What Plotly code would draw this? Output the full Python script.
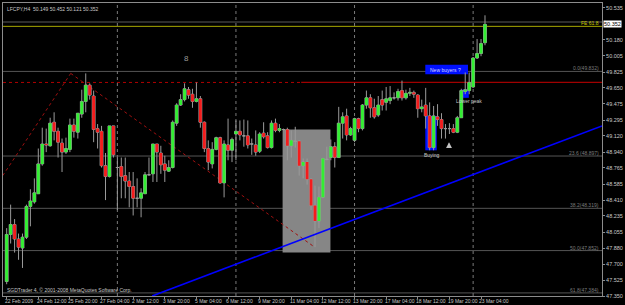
import plotly.graph_objects as go

# ---------------- data ----------------
title_text = "LFCPY,H4  50.149 50.452 50.121 50.352"
copyright_text = "SGDTrader 4, \u00a9 2001-2008 MetaQuotes Software Corp."

opens = [47.51, 48.03, 48.14, 47.98, 47.88, 48.00, 48.34, 48.39, 48.48, 48.81,
         49.03, 49.01, 49.27, 49.17, 49.04, 48.94, 48.97, 49.24, 49.16, 49.36,
         49.50, 49.68, 49.56, 49.20, 49.17, 48.79, 48.67, 49.23, 48.77, 48.78,
         48.68, 48.62, 48.56, 48.43, 48.43, 48.48, 48.69, 48.70, 49.03, 48.93,
         48.81, 48.73, 48.77, 49.26, 49.46, 49.52, 49.63, 49.58, 49.50, 49.53,
         49.27, 48.98, 48.81, 48.97, 49.10, 48.60, 49.02, 48.96, 49.14, 49.17,
         49.12, 49.12, 49.03, 49.02, 48.95, 49.15, 49.12, 48.99, 49.26, 49.18,
         49.19, 49.19, 49.01, 49.06, 49.06, 48.79, 48.83, 48.64, 48.35, 48.18,
         48.44, 48.86, 48.88, 49.00, 48.88, 49.26, 49.34, 49.13, 49.07, 49.31,
         49.20, 49.46, 49.54, 49.43, 49.35, 49.52, 49.49, 49.51, 49.54, 49.54,
         49.62, 49.54, 49.59, 49.60, 49.57, 49.42, 49.46, 49.34, 48.99, 49.33,
         49.30, 49.20, 49.20, 49.20, 49.16, 49.32, 49.61, 49.62, 49.66, 49.98,
         50.03, 50.149]
highs = [48.10, 48.36, 48.20, 48.04, 48.04, 48.36, 48.53, 48.65, 48.98, 49.21,
         49.20, 49.32, 49.38, 49.21, 49.09, 49.10, 49.31, 49.31, 49.37, 49.63,
         49.81, 49.70, 49.62, 49.25, 49.23, 48.93, 49.23, 49.23, 48.88, 48.88,
         48.88, 48.72, 48.72, 48.65, 48.54, 48.72, 48.88, 49.03, 49.03, 49.01,
         48.90, 48.85, 49.29, 49.48, 49.58, 49.70, 49.66, 49.64, 49.71, 49.56,
         49.28, 49.07, 49.05, 49.11, 49.11, 49.07, 49.31, 49.10, 49.29, 49.29,
         49.30, 49.29, 49.09, 49.18, 49.16, 49.27, 49.16, 49.29, 49.31, 49.25,
         49.20, 49.21, 49.18, 49.22, 49.07, 48.87, 48.87, 48.65, 48.57, 48.56,
         48.87, 49.00, 49.08, 49.05, 49.44, 49.38, 49.42, 49.22, 49.32, 49.32,
         49.47, 49.62, 49.58, 49.53, 49.56, 49.62, 49.66, 49.67, 49.60, 49.64,
         49.73, 49.63, 49.65, 49.62, 49.58, 49.52, 49.65, 49.49, 49.45, 49.47,
         49.37, 49.25, 49.26, 49.25, 49.34, 49.64, 49.82, 49.82, 49.99, 50.19,
         50.19, 50.452]
lows = [47.48, 47.93, 47.83, 47.75, 47.66, 47.98, 48.12, 48.37, 48.48, 48.79,
        48.94, 49.00, 49.07, 48.88, 48.72, 48.92, 48.94, 49.10, 49.09, 49.32,
        49.38, 49.52, 49.05, 48.98, 48.77, 48.41, 48.66, 48.88, 48.30, 48.43,
        48.43, 48.33, 48.24, 48.33, 48.22, 48.48, 48.68, 48.61, 48.61, 48.70,
        48.61, 48.72, 48.76, 49.23, 49.45, 49.50, 49.53, 49.43, 49.49, 49.21,
        48.94, 48.74, 48.76, 48.96, 48.59, 48.44, 48.85, 48.83, 48.85, 49.07,
        49.00, 48.98, 48.91, 48.90, 48.93, 49.09, 48.98, 48.98, 49.16, 49.16,
        49.18, 48.85, 48.88, 48.99, 48.68, 48.65, 48.58, 48.30, 47.89, 48.10,
        48.43, 48.85, 48.85, 48.77, 48.88, 49.09, 49.07, 49.12, 49.05, 49.16,
        49.18, 49.42, 49.32, 49.31, 49.33, 49.40, 49.40, 49.47, 49.52, 49.51,
        49.51, 49.52, 49.56, 49.54, 49.32, 49.38, 49.20, 48.96, 48.96, 49.23,
        49.09, 49.09, 49.14, 49.15, 49.15, 49.32, 49.58, 49.58, 49.65, 49.97,
        50.00, 50.121]
closes = [48.03, 48.14, 47.98, 47.89, 48.00, 48.34, 48.40, 48.49, 48.81, 49.03,
          49.02, 49.26, 49.17, 49.05, 48.94, 48.98, 49.24, 49.17, 49.37, 49.50,
          49.68, 49.57, 49.19, 49.16, 48.79, 48.67, 49.23, 48.91, 48.77, 48.67,
          48.62, 48.56, 48.43, 48.43, 48.49, 48.69, 48.69, 49.03, 48.94, 48.80,
          48.74, 48.77, 49.27, 49.46, 49.52, 49.64, 49.57, 49.50, 49.53, 49.27,
          48.98, 48.83, 48.97, 49.10, 48.60, 49.03, 48.96, 49.08, 49.17, 49.13,
          49.12, 49.02, 49.03, 48.94, 49.14, 49.11, 48.99, 49.26, 49.18, 49.20,
          49.19, 49.01, 49.07, 49.06, 48.79, 48.83, 48.64, 48.35, 48.18, 48.44,
          48.87, 48.86, 49.00, 48.88, 49.26, 49.33, 49.13, 49.20, 49.31, 49.20,
          49.46, 49.54, 49.43, 49.33, 49.46, 49.46, 49.53, 49.54, 49.54, 49.61,
          49.54, 49.59, 49.60, 49.58, 49.42, 49.44, 49.34, 48.99, 49.34, 49.30,
          49.20, 49.20, 49.20, 49.16, 49.32, 49.62, 49.63, 49.71, 49.98, 50.03,
          50.14, 50.352]
bars = list(range(len(opens)))

xtick_bars = [0, 8, 16, 24, 32, 40, 48, 56, 64, 72, 80, 88, 96, 104, 112, 120]
xtick_labels = ["22 Feb 2009", "24 Feb 12:00", "25 Feb 20:00", "27 Feb 04:00",
                "2 Mar 12:00", "3 Mar 20:00", "5 Mar 04:00", "6 Mar 12:00",
                "9 Mar 20:00", "11 Mar 04:00", "12 Mar 12:00", "13 Mar 20:00",
                "17 Mar 04:00", "18 Mar 12:00", "19 Mar 20:00", "23 Mar 04:00"]
ytick_vals = [50.535, 50.180, 50.005, 49.825, 49.650, 49.475, 49.295, 49.120,
              48.940, 48.765, 48.585, 48.410, 48.235, 48.055, 47.880, 47.700,
              47.525, 47.350]
week_separator_bars = [28, 58, 88, 118]
current_price = 50.352
ask_line_price = 50.378

fib_names = ["0.0", "23.6 ", "38.2", "50.0", "61.8"]
fib_prices = [49.832, 48.897, 48.319, 47.852, 47.384]
fe_label = "FE 61.8"
fe_price = 50.330
red_level_price = 49.71
red_dotted_end_bar = 74.5
zigzag_bars = [-1.0, 16.2, 77.9]
zigzag_prices = [48.68, 49.81, 47.89]
trend_bars = [36.8, 150.6]
trend_prices = [47.35, 49.23]

gray_box_bars = [69.8, 81.9]
gray_box_prices = [47.83, 49.19]
blue_boxes_bars = [[105.9, 116.7], [105.9, 108.8], [115.1, 116.9]]
blue_boxes_prices = [[49.80, 49.905], [48.96, 49.34], [49.54, 49.63]]

note_texts = ["New buyers", "?", "Buying", "Lower peak", "8"]
note_bars = [106.5, 114.6, 107.7, 116.9, 45.5]
note_prices = [49.853, 49.853, 48.905, 49.50, 49.97]
up_arrow_bar = 111.9
up_arrow_price = 49.05

x_range = [-0.93, 150.6]
y_range = [47.35, 50.588]

# ---------------- figure ----------------
FONT = "Liberation Sans"
GRAY = "#9a9a9a"
TXT = 5

fig = go.Figure()
# wicks + outline (gray)
fig.add_trace(go.Candlestick(
    x=bars, open=opens, high=highs, low=lows, close=closes,
    increasing=dict(line=dict(color=GRAY, width=1), fillcolor=GRAY),
    decreasing=dict(line=dict(color=GRAY, width=1), fillcolor=GRAY),
    whiskerwidth=0, hoverinfo="skip", showlegend=False))
# coloured bodies on top
fig.add_trace(go.Candlestick(
    x=bars, open=opens, high=highs, low=lows, close=closes,
    increasing=dict(line=dict(color="#2ee62e", width=0), fillcolor="#33ee33"),
    decreasing=dict(line=dict(color="#f01e1e", width=0), fillcolor="#f41c1c"),
    whiskerwidth=0, hoverinfo="skip", showlegend=False))

shapes = []
# gray box
shapes.append(dict(type="rect", xref="x", yref="y", layer="below",
                   x0=gray_box_bars[0], x1=gray_box_bars[1],
                   y0=gray_box_prices[0], y1=gray_box_prices[1],
                   fillcolor="#868686", line=dict(width=0)))
# blue boxes
for bb, bp in zip(blue_boxes_bars, blue_boxes_prices):
    shapes.append(dict(type="rect", xref="x", yref="y", layer="below",
                       x0=bb[0], x1=bb[1], y0=bp[0], y1=bp[1],
                       fillcolor="#0010ff", line=dict(width=0)))
# fib lines
for p in fib_prices:
    shapes.append(dict(type="line", xref="paper", yref="y", layer="below",
                       x0=0, x1=1, y0=p, y1=p, line=dict(color="#555555", width=1)))
# ask line & FE line
shapes.append(dict(type="line", xref="paper", yref="y", layer="below",
                   x0=0, x1=1, y0=ask_line_price, y1=ask_line_price,
                   line=dict(color="#5a5a5a", width=1)))
shapes.append(dict(type="line", xref="paper", yref="y", layer="below",
                   x0=0, x1=1, y0=fe_price, y1=fe_price,
                   line=dict(color="#a8a800", width=1)))
# red horizontal level: dotted then solid
shapes.append(dict(type="line", xref="x", yref="y", layer="below",
                   x0=x_range[0], x1=red_dotted_end_bar, y0=red_level_price, y1=red_level_price,
                   line=dict(color="#b00000", width=1, dash="dot")))
shapes.append(dict(type="line", xref="x", yref="y", layer="below",
                   x0=red_dotted_end_bar, x1=x_range[1], y0=red_level_price, y1=red_level_price,
                   line=dict(color="#a00000", width=1.3)))
# zigzag dotted
for i in range(len(zigzag_bars) - 1):
    shapes.append(dict(type="line", xref="x", yref="y", layer="below",
                       x0=zigzag_bars[i], x1=zigzag_bars[i + 1],
                       y0=zigzag_prices[i], y1=zigzag_prices[i + 1],
                       line=dict(color="#a01010", width=1, dash="dot")))
# week separators
for b in week_separator_bars:
    shapes.append(dict(type="line", xref="x", yref="paper", layer="below",
                       x0=b, x1=b, y0=0, y1=1,
                       line=dict(color="#7a7a7a", width=1, dash="dot")))
# trend line
shapes.append(dict(type="line", xref="x", yref="y", layer="above",
                   x0=trend_bars[0], x1=trend_bars[1],
                   y0=trend_prices[0], y1=trend_prices[1],
                   line=dict(color="#0000ff", width=1.6)))

annotations = []
small = dict(family=FONT, size=TXT, color="#c8c8c8")
# x tick labels
for b, lab in zip(xtick_bars, xtick_labels):
    annotations.append(dict(x=b - 0.9, y=0, xref="x", yref="paper", text=lab,
                            showarrow=False, xanchor="left", yanchor="top",
                            yshift=0, font=small))
# title and copyright
annotations.append(dict(x=0.003, y=1, xref="paper", yref="paper", text=title_text,
                        showarrow=False, xanchor="left", yanchor="top", yshift=-1,
                        font=small))
annotations.append(dict(x=0.003, y=0, xref="paper", yref="paper", text=copyright_text,
                        showarrow=False, xanchor="left", yanchor="bottom", yshift=1,
                        font=small))
# fib labels
for n, p in zip(fib_names, fib_prices):
    annotations.append(dict(x=1, y=p, xref="paper", yref="y", text=f"{n}({p:.3f})",
                            showarrow=False, xanchor="right", yanchor="bottom",
                            xshift=-1, yshift=-2,
                            font=dict(family=FONT, size=TXT, color="#7c7c7c")))
annotations.append(dict(x=1, y=fe_price, xref="paper", yref="y", text=fe_label,
                        showarrow=False, xanchor="right", yanchor="bottom",
                        xshift=-1, yshift=-2,
                        font=dict(family=FONT, size=TXT, color="#c8c800")))
# current price box
annotations.append(dict(x=1, y=current_price, xref="paper", yref="y",
                        text=f"{current_price:.3f}", showarrow=False,
                        xanchor="left", yanchor="middle", xshift=1,
                        bgcolor="#ffffff", borderpad=0,
                        font=dict(family=FONT, size=5.5, color="#000000")))
# notes
note_styles = [dict(xanchor="left", color="#d8d8ff", size=TXT),
               dict(xanchor="center", color="#d8d8ff", size=TXT),
               dict(xanchor="center", color="#c8c8c8", size=TXT),
               dict(xanchor="center", color="#c8c8c8", size=TXT),
               dict(xanchor="center", color="#9a9a9a", size=8)]
for t, b, p, s in zip(note_texts, note_bars, note_prices, note_styles):
    annotations.append(dict(x=b, y=p, xref="x", yref="y", text=t, showarrow=False,
                            xanchor=s["xanchor"], yanchor="middle",
                            font=dict(family=FONT, size=s["size"], color=s["color"])))
# up arrow symbol
annotations.append(dict(x=up_arrow_bar, y=up_arrow_price, xref="x", yref="y", text="",
                        showarrow=True, arrowhead=2, arrowsize=0.9, arrowwidth=1.3,
                        arrowcolor="#c4c4c4", ax=0, ay=7, standoff=0))

fig.update_layout(
    width=625, height=305,
    margin=dict(l=2, r=19, t=2, b=9),
    paper_bgcolor="#000000", plot_bgcolor="#000000",
    boxgap=0.15, boxgroupgap=0.15,
    showlegend=False,
    shapes=shapes, annotations=annotations,
    xaxis=dict(range=x_range, rangeslider=dict(visible=False), showgrid=False,
               zeroline=False, showline=True, mirror=True, linecolor="#8c8c8c",
               linewidth=1, tickvals=xtick_bars, ticks="outside", ticklen=2,
               tickcolor="#8c8c8c", showticklabels=False, fixedrange=True),
    yaxis=dict(range=y_range, side="right", showgrid=False, zeroline=False,
               showline=True, mirror=True, linecolor="#8c8c8c", linewidth=1,
               tickvals=ytick_vals, ticktext=[f"{v:.3f}" for v in ytick_vals],
               ticks="outside", ticklen=2, tickcolor="#8c8c8c",
               tickfont=dict(family=FONT, size=5.5, color="#c8c8c8"), fixedrange=True),
)

fig.write_html("out.html")
